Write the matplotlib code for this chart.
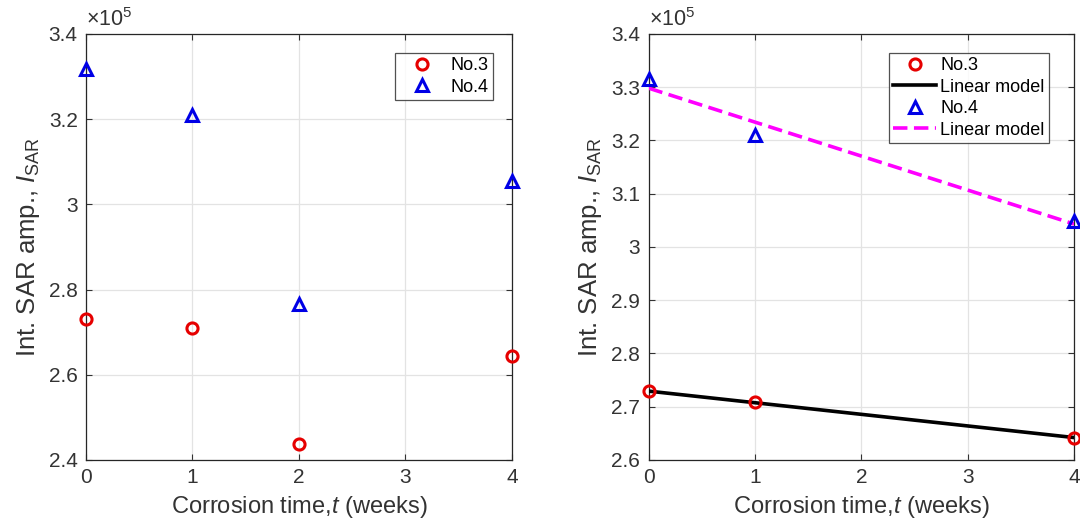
import matplotlib
matplotlib.use('Agg')

font = {'family': 'Liberation Sans',
        'size': 14}

matplotlib.rcParams['mathtext.fontset'] = 'custom'
matplotlib.rcParams['mathtext.rm'] = 'Liberation Sans'
matplotlib.rcParams['mathtext.it'] = 'Liberation Sans:italic'
matplotlib.rc('font', **font)

import matplotlib.pyplot as plt
from matplotlib.ticker import FuncFormatter
import numpy as np

# corrosion time (weeks)
t_all = [0, 1, 2, 4]
no3_all = [2.730e5, 2.710e5, 2.438e5, 2.645e5]
no4_all = [3.317e5, 3.210e5, 2.765e5, 3.055e5]

# right panel uses the samples without week 2
t_fit = [0, 1, 4]
no3_fit = [2.729e5, 2.708e5, 2.642e5]
no4_fit = [3.316e5, 3.211e5, 3.049e5]

x_ticks = [0, 1, 2, 3, 4]
y_ticks_left = [2.4e5, 2.6e5, 2.8e5, 3.0e5, 3.2e5, 3.4e5]
y_ticks_right = [2.6e5, 2.7e5, 2.8e5, 2.9e5, 3.0e5, 3.1e5, 3.2e5, 3.3e5, 3.4e5]

txt = '#333333'
red = '#e60000'
blue = '#0000e6'


def style_axes(ax, yticks):
    ax.set_xlim(0, 4)
    ax.set_ylim(yticks[0], yticks[-1])
    ax.set_xticks(x_ticks)
    ax.set_yticks(yticks)
    ax.yaxis.set_major_formatter(FuncFormatter(lambda v, p: '%g' % round(v / 1e5, 2)))
    ax.grid(True, color='#e3e3e3', linewidth=0.9)
    ax.set_axisbelow(True)
    ax.tick_params(direction='in', length=4, top=True, right=True,
                   colors=txt, labelsize=15, pad=6, width=0.8)
    for s in ax.spines.values():
        s.set_color('#262626')
        s.set_linewidth(0.9)
    ax.set_xlabel(r'Corrosion time,$\mathit{t}$ (weeks)', fontsize=17, color=txt, labelpad=5)
    ax.set_ylabel(r'Int. SAR amp., $\mathit{I}_{\mathrm{SAR}}$', fontsize=18.5, color=txt, labelpad=5)
    ax.text(0.0, 1.008, r'$\times10^{5}$', transform=ax.transAxes, fontsize=15.5,
            color=txt, ha='left', va='bottom')


def main():
    fig = plt.figure(figsize=(10.8, 5.23), dpi=100)
    ax1 = fig.add_axes([0.0796, 0.1205, 0.3944, 0.8145])
    ax2 = fig.add_axes([0.6005, 0.1205, 0.394, 0.8145])

    mk = dict(linestyle='none', markersize=8, markeredgewidth=2.2,
              markerfacecolor='none', clip_on=False, zorder=5)

    ax1.plot(t_all, no3_all, marker='o', color=red, label='No.3', **mk)
    ax1.plot(t_all, no4_all, marker='^', color=blue, label='No.4', **mk)
    style_axes(ax1, y_ticks_left)
    leg1 = ax1.legend(loc='upper right', bbox_to_anchor=(0.955, 0.956), borderaxespad=0,
                      fancybox=False, edgecolor='#262626', fontsize=13, handlelength=2.5,
                      labelspacing=0.25, borderpad=0.25, handletextpad=0.3)
    leg1.get_frame().set_linewidth(0.9)

    # linear model fitted to the three samples
    xx = np.array([0, 4])
    p3 = np.polyfit(t_fit, no3_fit, 1)
    p4 = np.polyfit(t_fit, no4_fit, 1)

    ax2.plot(t_fit, no3_fit, marker='o', color=red, label='No.3', **mk)
    ax2.plot(xx, np.polyval(p3, xx), color='black', linewidth=2.6, label='Linear model', zorder=4)
    ax2.plot(t_fit, no4_fit, marker='^', color=blue, label='No.4', **mk)
    ax2.plot(xx, np.polyval(p4, xx), color='#ff00ff', linewidth=2.6, linestyle=(0, (4, 1.8)),
             label='Linear model', zorder=4)
    style_axes(ax2, y_ticks_right)
    leg2 = ax2.legend(loc='upper right', bbox_to_anchor=(0.941, 0.956), borderaxespad=0,
                      fancybox=False, edgecolor='#262626', fontsize=13, handlelength=2.4,
                      labelspacing=0.25, borderpad=0.25, handletextpad=0.2)
    leg2.get_frame().set_linewidth(0.9)

    fig.savefig('out.png', dpi=100, facecolor='white')


if __name__ == '__main__':
    main()
